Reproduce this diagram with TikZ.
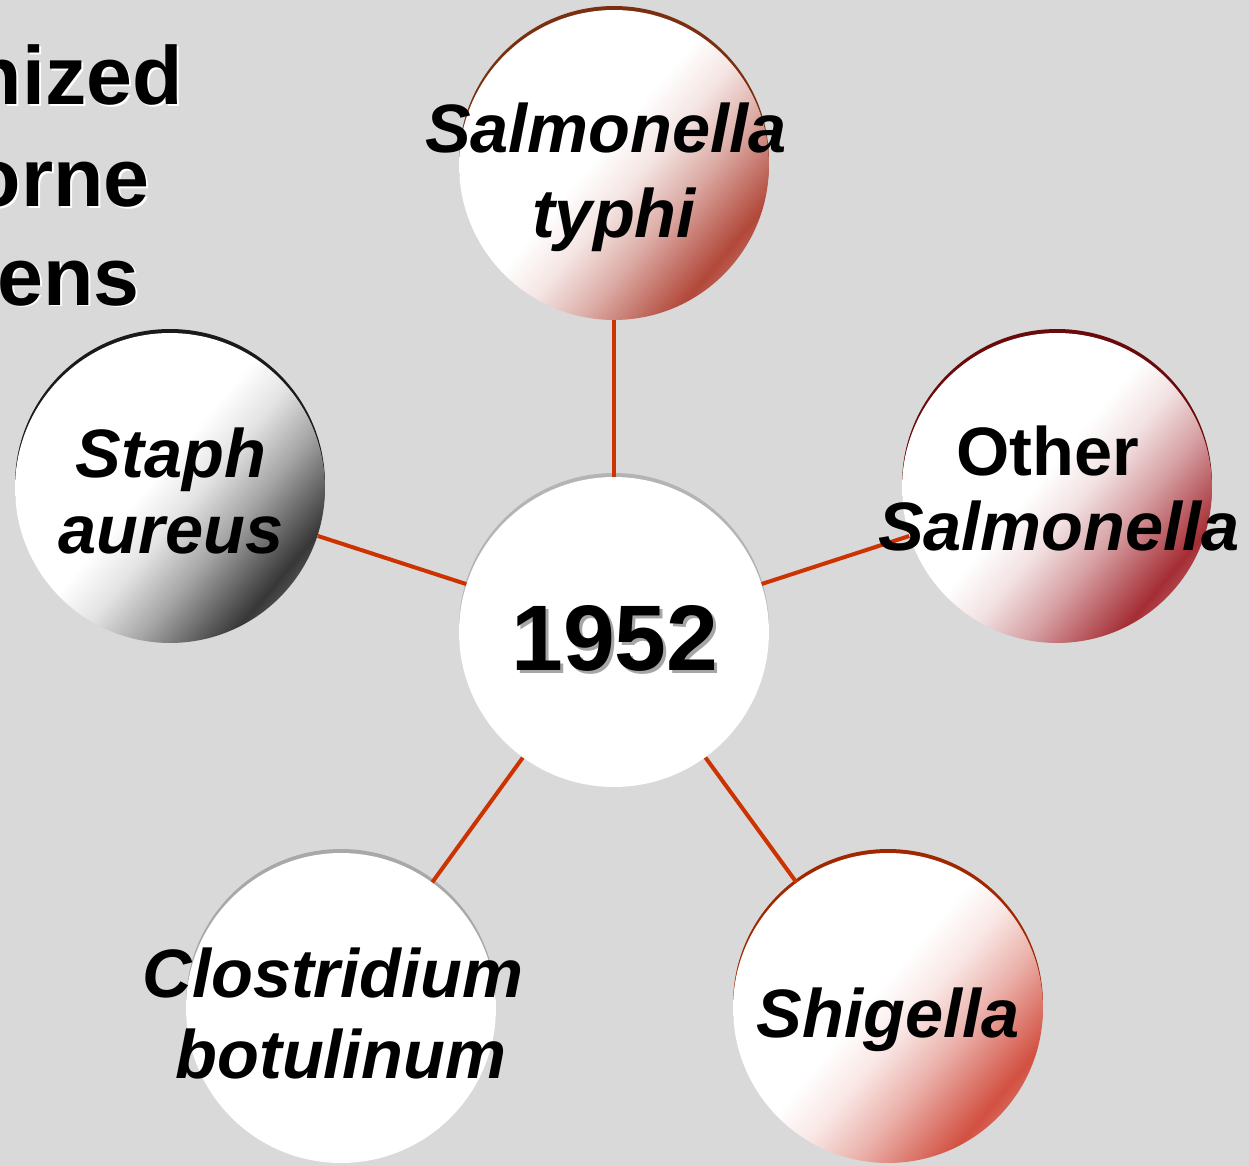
\documentclass[tikz,border=0pt]{standalone}
\usepackage{fontspec}
\setmainfont{Liberation Sans}
\definecolor{bgray}{HTML}{D9D9D9}
\definecolor{linkred}{HTML}{CC3300}
\definecolor{typC}{RGB}{178,72,58}
\definecolor{othC}{RGB}{165,45,52}
\definecolor{shiC}{RGB}{210,80,65}
\definecolor{staC}{RGB}{55,55,55}
\definecolor{typR}{HTML}{7A3010}
\definecolor{othR}{HTML}{6A0A0A}
\definecolor{shiR}{HTML}{A02800}
\definecolor{staR}{HTML}{1A1A1A}
\definecolor{cloR}{HTML}{A8A8A8}
\definecolor{cenR}{HTML}{B4B4B4}
\newcommand{\mkshade}[2]{%
  \pgfdeclarehorizontalshading{#1}{100bp}{color(0bp)=(white); color(25bp)=(white);
    color(47bp)=(white); color(54bp)=(#2!14!white); color(62bp)=(#2!45!white);
    color(69bp)=(#2!80!white); color(73bp)=(#2); color(76bp)=(#2!85!white); color(100bp)=(#2!85!white)}}
\mkshade{typS}{typC}
\mkshade{othS}{othC}
\mkshade{shiS}{shiC}
\mkshade{staS}{staC}
\tikzset{
  bubble/.style={circle, minimum size=6.2cm, inner sep=0pt},
  shaded/.style={bubble, shading=#1, shading angle=-40},
  link/.style={draw=linkred, line width=0.08cm},
  lbl/.style={font=\fontsize{39}{47}\selectfont\bfseries\itshape, anchor=base, inner sep=0pt},
  ttl/.style={font=\fontsize{47}{57}\selectfont\bfseries, anchor=base east, inner sep=0pt},
}
\begin{document}
\begin{tikzpicture}[x=0.02cm, y=-0.02cm]
\fill[bgray] (0,0) rectangle (1249,1166);
\useasboundingbox (0,0) rectangle (1249,1166);
% title fragments
\node[ttl, white] (t1s) at (185,107) {nized};
\node[ttl] (t1) at (183,105) {nized};
\node[ttl, white] (t2s) at (152,209) {orne};
\node[ttl] (t2) at (150,207) {orne};
\node[ttl, white] (t3s) at (142,307) {ens};
\node[ttl] (t3) at (140,305) {ens};
% rims
\fill[typR] (614,161) circle (3.1cm);
\fill[othR] (1057,484) circle (3.1cm);
\fill[shiR] (888,1004) circle (3.1cm);
\fill[staR] (170,484) circle (3.1cm);
\fill[cloR] (341,1004) circle (3.1cm);
\fill[cenR] (614,628) circle (3.1cm);
% circles
\node[shaded=typS] (typhi) at (614,165) {};
\node[shaded=othS] (other) at (1057,488) {};
\node[shaded=shiS] (shig) at (888,1008) {};
\node[shaded=staS] (staph) at (170,488) {};
\node[bubble, fill=white] (clos) at (341,1008) {};
\node[bubble, fill=white] (cen) at (614,632) {};
% connectors
\draw[link] (cen) -- (typhi);
\draw[link] (cen) -- (other);
\draw[link] (cen) -- (shig);
\draw[link] (cen) -- (staph);
\draw[link] (cen) -- (clos);
% labels
\node[lbl] (l1a) at (606,153) {Salmonella};
\node[lbl] (l1b) at (614,237) {typhi};
\node[lbl, font=\fontsize{39}{47}\selectfont\bfseries] (l2a) at (1048,475) {Other};
\node[lbl] (l2b) at (1059,550) {Salmonella};
\node[lbl] (l3) at (888,1037) {Shigella};
\node[lbl] (l4a) at (171,477) {Staph};
\node[lbl] (l4b) at (171,553) {aureus};
\node[lbl] (l5a) at (333,997) {Clostridium};
\node[lbl] (l5b) at (341,1078) {botulinum};
\node[lbl, font=\fontsize{53}{60}\selectfont\bfseries, gray!70] (ys) at (618,673) {1952};
\node[lbl, font=\fontsize{53}{60}\selectfont\bfseries] (year) at (615,670) {1952};
\end{tikzpicture}
\end{document}
